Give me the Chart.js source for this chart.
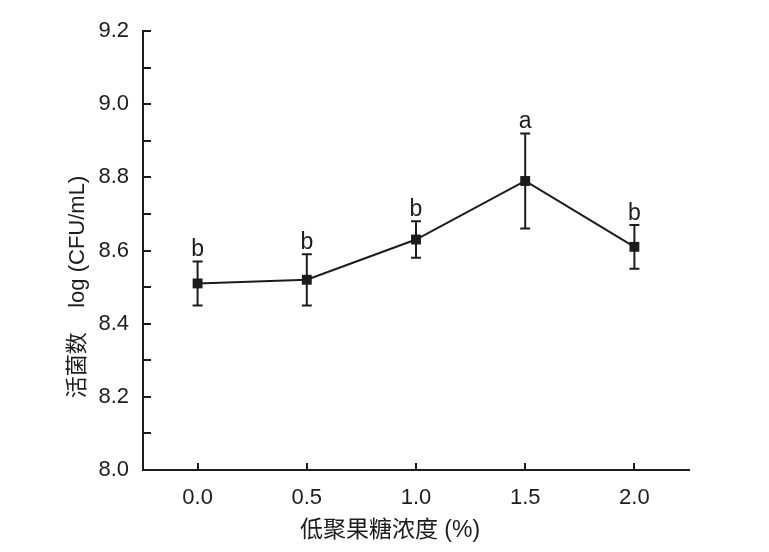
<!DOCTYPE html>
<html>
<head>
<meta charset="utf-8">
<script src="https://cdn.jsdelivr.net/npm/chart.js@4"></script>
<style>
  html, body { margin: 0; padding: 0; background: #fff; }
  #chart { display: block; }
</style>
</head>
<body>
<canvas id="chart" width="769" height="552"></canvas>
<script>
// data
const concentrations = [0.0, 0.5, 1.0, 1.5, 2.0];
const logCounts = [8.51, 8.52, 8.63, 8.79, 8.61];
const errUpper = [8.57, 8.59, 8.68, 8.92, 8.67];
const errLower = [8.45, 8.45, 8.58, 8.66, 8.55];
const groupLetters = ['b', 'b', 'b', 'a', 'b'];
const yTickValues = [8.0, 8.1, 8.2, 8.3, 8.4, 8.5, 8.6, 8.7, 8.8, 8.9, 9.0, 9.1, 9.2];
const xLabel = '低聚果糖浓度 (%)';
const yLabel = '活菌数    log (CFU/mL)';

const ink = '#1c1c1c';
const fontFamily = '"Liberation Sans", Arial, "Noto Sans CJK SC", sans-serif';

// error bars, letters, inward ticks and axis titles
const extrasPlugin = {
    id: 'extras',
    beforeDatasetsDraw(chart) {
        const ctx = chart.ctx;
        const xs = chart.scales.x, ys = chart.scales.y;
        ctx.save();
        ctx.strokeStyle = ink;
        ctx.lineWidth = 2;
        concentrations.forEach((c, i) => {
            const px = xs.getPixelForValue(c);
            const top = ys.getPixelForValue(errUpper[i]);
            const bot = ys.getPixelForValue(errLower[i]);
            ctx.beginPath();
            ctx.moveTo(px, top); ctx.lineTo(px, bot);
            ctx.moveTo(px - 5, top); ctx.lineTo(px + 5, top);
            ctx.moveTo(px - 5, bot); ctx.lineTo(px + 5, bot);
            ctx.stroke();
        });
        ctx.restore();
    },
    afterDraw(chart) {
        const ctx = chart.ctx;
        const xs = chart.scales.x, ys = chart.scales.y;
        const area = chart.chartArea;
        ctx.save();
        ctx.strokeStyle = ink;
        ctx.lineWidth = 2;
        // y ticks pointing into the plot
        yTickValues.forEach(v => {
            const py = Math.round(ys.getPixelForValue(v));
            ctx.beginPath();
            ctx.moveTo(area.left, py); ctx.lineTo(area.left + 8, py);
            ctx.stroke();
        });
        // x ticks pointing up
        concentrations.forEach(c => {
            const px = Math.round(xs.getPixelForValue(c));
            ctx.beginPath();
            ctx.moveTo(px, area.bottom); ctx.lineTo(px, area.bottom - 7);
            ctx.stroke();
        });

        // significance letters
        ctx.fillStyle = ink;
        ctx.font = '23px ' + fontFamily;
        ctx.textAlign = 'center';
        ctx.textBaseline = 'alphabetic';
        concentrations.forEach((c, i) => {
            ctx.fillText(groupLetters[i], xs.getPixelForValue(c), ys.getPixelForValue(errUpper[i]) - 5);
        });

        // axis titles
        ctx.textBaseline = 'middle';
        ctx.font = '23px ' + fontFamily;
        ctx.fillText(xLabel, 390, 531);
        ctx.font = '22px ' + fontFamily;
        ctx.translate(78, 287);
        ctx.rotate(-Math.PI / 2);
        ctx.fillText(yLabel, 0, 0);
        ctx.restore();
    }
};

new Chart(document.getElementById('chart'), {
    type: 'line',
    data: {
        datasets: [{
            data: concentrations.map((c, i) => ({ x: c, y: logCounts[i] })),
            borderColor: ink,
            borderWidth: 2,
            backgroundColor: ink,
            pointStyle: 'rect',
            pointRadius: 7,
            pointHoverRadius: 7,
            pointBorderWidth: 0,
            tension: 0
        }]
    },
    options: {
        responsive: false,
        animation: false,
        events: [],
        layout: { padding: { left: 0, top: 31, right: 80, bottom: 0 } },
        plugins: {
            legend: { display: false },
            tooltip: { enabled: false }
        },
        scales: {
            x: {
                type: 'linear',
                min: -0.25,
                max: 2.25,
                afterBuildTicks: scale => { scale.ticks = concentrations.map(v => ({ value: v })); },
                afterFit: scale => { scale.height = 82; },
                grid: { display: false },
                border: { display: true, color: ink, width: 2 },
                ticks: {
                    color: ink,
                    padding: 7,
                    maxRotation: 0,
                    font: { family: fontFamily, size: 22 },
                    callback: v => v.toFixed(1)
                }
            },
            y: {
                min: 8.0,
                max: 9.2,
                afterBuildTicks: scale => { scale.ticks = yTickValues.map(v => ({ value: v })); },
                afterFit: scale => { scale.width = 143; },
                grid: { display: false },
                border: { display: true, color: ink, width: 2 },
                ticks: {
                    color: ink,
                    padding: 6,
                    font: { family: fontFamily, size: 22 },
                    callback: v => (Math.round(v * 10) % 2 === 0 ? v.toFixed(1) : '')
                }
            }
        }
    },
    plugins: [extrasPlugin]
});
</script>
</body>
</html>
